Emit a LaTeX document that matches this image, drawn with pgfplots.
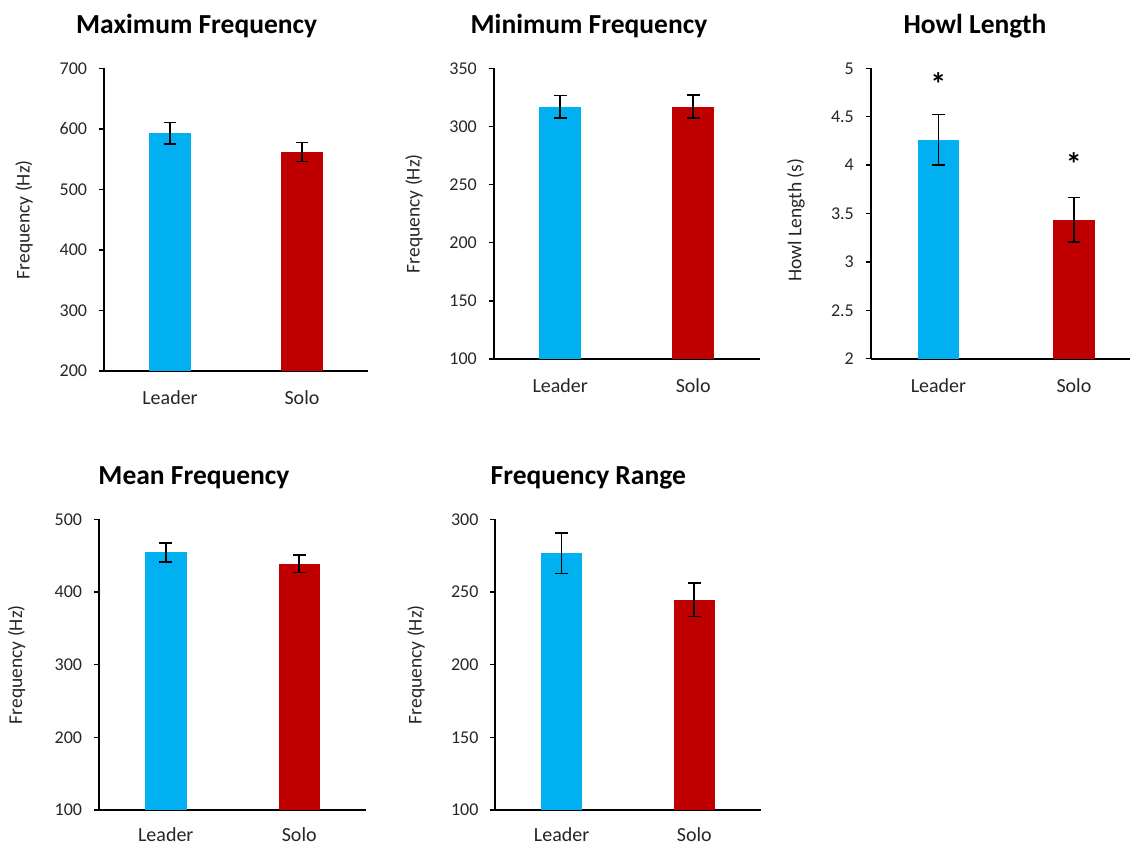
\documentclass[border=0pt]{standalone}
\usepackage{pgfplots}
\pgfplotsset{compat=1.18}
\usepackage{fontspec}
\setmainfont{Carlito}
\definecolor{lblue}{HTML}{00B0F0}
\definecolor{dred}{HTML}{C00000}
\definecolor{txt}{HTML}{262626}
\pgfplotsset{
  panel/.style={
    scale only axis, anchor=south west,
    axis lines=left,
    axis line style={-, line width=1.8pt, black},
    xmin=0.5, xmax=2.5,
    xtick={1,2}, xticklabels={Leader,Solo},
    xtick style={draw=none},
    ytick style={line width=1.5pt, black},
    tick align=outside, major tick length=5pt,
    ybar, bar width=41.5pt, bar shift=0pt,
    /pgf/number format/assume math mode=true,
    yticklabel style={font=\fontsize{18}{18}\selectfont, text=txt, anchor=east, inner sep=0pt, xshift=-11.7pt},
    xticklabel style={font=\fontsize{20}{20}\selectfont, text=txt, anchor=base, inner sep=0pt, yshift=-28.3pt},
    ylabel style={font=\fontsize{19.5}{20}\selectfont, text=txt, anchor=center},
    error bars/y dir=both, error bars/y explicit,
    error bars/error bar style={line width=1.6pt, black},
    error bars/error mark options={line width=1.6pt, mark size=6.3pt, black, rotate=90},
  },
}
\tikzset{ttl/.style={anchor=base, font=\fontsize{27.5}{27.5}\selectfont\bfseries, text=black},
  star/.style={anchor=base, font=\fontsize{32}{32}\selectfont\bfseries, text=black}}
\begin{document}
\begin{tikzpicture}
\useasboundingbox (0pt,0pt) rectangle (1130pt,-845pt);
% Maximum Frequency
\node[ttl] at (196.7pt,-33.3pt) {Maximum Frequency};
\begin{axis}[panel, at={(104pt,-371pt)}, width=264pt, height=302.7pt,
  ymin=200, ymax=700, ytick={200,300,400,500,600,700},
  ylabel={Frequency (Hz)}, ylabel style={at={(axis description cs:-0.303,0.5)}}]
\addplot[fill=lblue, draw=none] coordinates {(1,592.6) +- (0,18)};
\addplot[fill=dred, draw=none] coordinates {(2,561.7) +- (0,15.5)};
\end{axis}
% Minimum Frequency
\node[ttl] at (589pt,-33.3pt) {Minimum Frequency};
\begin{axis}[panel, at={(493.7pt,-359pt)}, width=266pt, height=290.7pt,
  ymin=100, ymax=350, ytick={100,150,200,250,300,350},
  ylabel={Frequency (Hz)}, ylabel style={at={(axis description cs:-0.2996,0.5)}}]
\addplot[fill=lblue, draw=none] coordinates {(1,317) +- (0,9.5)};
\addplot[fill=dred, draw=none] coordinates {(2,317) +- (0,10)};
\end{axis}
% Howl Length
\node[ttl] at (975pt,-33.3pt) {Howl Length};
\begin{axis}[panel, at={(870.7pt,-358.7pt)}, width=271pt, height=290.4pt,
  ymin=2, ymax=5, ytick={2,2.5,3,3.5,4,4.5,5},
  ylabel={Howl Length (s)}, ylabel style={at={(axis description cs:-0.2756,0.4776)}}]
\addplot[fill=lblue, draw=none] coordinates {(1,4.262) +- (0,0.262)};
\addplot[fill=dred, draw=none] coordinates {(2,3.436) +- (0,0.228)};
\node[star] at (axis cs:1,4.718) {*};
\node[star] at (axis cs:2,3.888) {*};
\end{axis}
% Mean Frequency
\node[ttl] at (194pt,-484.3pt) {Mean Frequency};
\begin{axis}[panel, at={(99pt,-810pt)}, width=267pt, height=290.7pt,
  ymin=100, ymax=500, ytick={100,200,300,400,500},
  xticklabel style={yshift=1.5pt},
  ylabel={Frequency (Hz)}, ylabel style={at={(axis description cs:-0.3086,0.5)}}]
\addplot[fill=lblue, draw=none] coordinates {(1,454.6) +- (0,13)};
\addplot[fill=dred, draw=none] coordinates {(2,438.9) +- (0,12)};
\end{axis}
% Frequency Range
\node[ttl] at (588.3pt,-484.3pt) {Frequency Range};
\begin{axis}[panel, at={(495.3pt,-810pt)}, width=265.3pt, height=290.7pt,
  ymin=100, ymax=300, ytick={100,150,200,250,300},
  xticklabel style={yshift=1.5pt},
  ylabel={Frequency (Hz)}, ylabel style={at={(axis description cs:-0.2989,0.5)}}]
\addplot[fill=lblue, draw=none] coordinates {(1,276.6) +- (0,14)};
\addplot[fill=dred, draw=none] coordinates {(2,244.7) +- (0,11.6)};
\end{axis}
\end{tikzpicture}
\end{document}
